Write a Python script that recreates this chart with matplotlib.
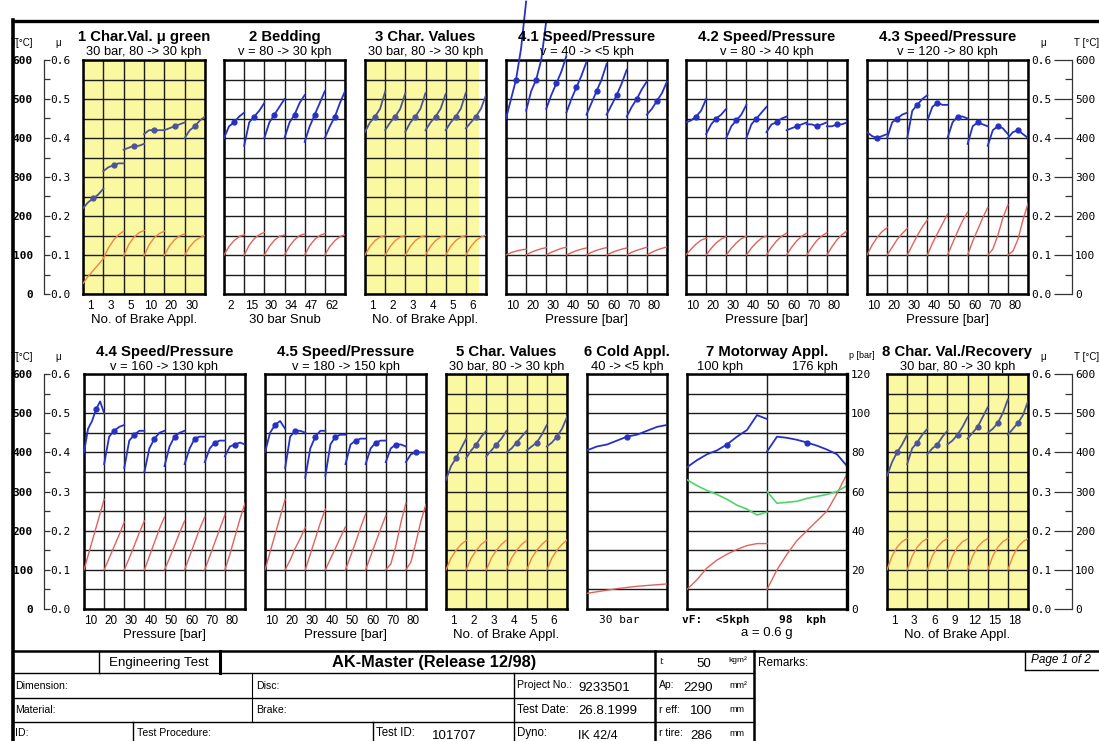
import matplotlib.pyplot as plt
import numpy as np

plt.rcParams['font.family'] = ['Liberation Sans', 'DejaVu Sans']

W, H = 1099, 741

# ---- friction coefficient mu and disc temperature [degC], one list per brake application ----
char1_mu = [[0.22, 0.235, 0.245, 0.255, 0.27],
            [0.315, 0.325, 0.33, 0.335, 0.335],
            [0.37, 0.375, 0.38, 0.38, 0.385],
            [0.41, 0.42, 0.42, 0.42, 0.42],
            [0.42, 0.425, 0.43, 0.435, 0.44],
            [0.40, 0.42, 0.43, 0.445, 0.455]]
char1_temp = [[27, 45, 60, 75, 91],
              [91, 118, 138, 152, 161],
              [97, 127, 145, 157, 163],
              [98, 126, 144, 155, 161],
              [99, 123, 139, 149, 154],
              [100, 121, 136, 145, 150]]
char1_ticks = ['1', '3', '5', '10', '20', '30']

bed_mu = [[0.40, 0.43, 0.44, 0.455, 0.465],
          [0.38, 0.44, 0.455, 0.47, 0.49],
          [0.40, 0.44, 0.46, 0.48, 0.50],
          [0.40, 0.44, 0.46, 0.49, 0.51],
          [0.39, 0.43, 0.46, 0.49, 0.52],
          [0.40, 0.43, 0.455, 0.49, 0.52]]
bed_temp = [[100, 122, 137, 147, 152],
            [100, 125, 142, 152, 158],
            [100, 122, 138, 148, 151],
            [100, 123, 139, 150, 154],
            [100, 124, 140, 150, 155],
            [100, 122, 137, 147, 152]]
bed_ticks = ['2', '15', '30', '34', '47', '62']

char3_mu = [[0.416, 0.44, 0.455, 0.475, 0.519],
            [0.42, 0.44, 0.455, 0.475, 0.515],
            [0.416, 0.44, 0.455, 0.475, 0.515],
            [0.42, 0.44, 0.455, 0.475, 0.513],
            [0.42, 0.44, 0.455, 0.475, 0.516],
            [0.425, 0.44, 0.455, 0.475, 0.51]]
char3_temp = [[100, 122, 137, 146, 150],
              [100, 122, 137, 146, 150],
              [100, 122, 137, 146, 150],
              [100, 122, 137, 146, 150],
              [100, 122, 137, 146, 150],
              [100, 122, 137, 146, 151]]
appl6_ticks = ['1', '2', '3', '4', '5', '6']

pressure_ticks = ['10', '20', '30', '40', '50', '60', '70', '80']

sp40_mu = [[0.45, 0.50, 0.55, 0.63, 0.75],
           [0.47, 0.52, 0.55, 0.60, 0.70],
           [0.475, 0.51, 0.54, 0.57, 0.61],
           [0.465, 0.50, 0.53, 0.56, 0.595],
           [0.46, 0.49, 0.52, 0.55, 0.59],
           [0.46, 0.485, 0.51, 0.54, 0.575],
           [0.455, 0.48, 0.50, 0.525, 0.545],
           [0.46, 0.475, 0.495, 0.515, 0.545]]
sp40_temp = [[100, 106, 110, 113, 115],
             [100, 107, 112, 116, 119],
             [100, 107, 112, 117, 120],
             [100, 106, 111, 115, 118],
             [100, 107, 112, 116, 119],
             [100, 106, 111, 115, 118],
             [100, 107, 112, 116, 120],
             [100, 107, 113, 117, 121]]

sp80_mu = [[0.44, 0.445, 0.455, 0.47, 0.50],
           [0.41, 0.435, 0.45, 0.46, 0.475],
           [0.40, 0.43, 0.445, 0.46, 0.485],
           [0.40, 0.435, 0.45, 0.465, 0.48],
           [0.415, 0.435, 0.44, 0.45, 0.455],
           [0.42, 0.425, 0.43, 0.435, 0.44],
           [0.435, 0.435, 0.43, 0.435, 0.44],
           [0.43, 0.43, 0.435, 0.435, 0.44]]
sp80_temp = [[100, 115, 128, 138, 143],
             [100, 117, 131, 141, 147],
             [100, 117, 131, 142, 148],
             [100, 118, 132, 143, 149],
             [100, 120, 136, 148, 156],
             [100, 120, 136, 148, 156],
             [100, 120, 137, 149, 157],
             [100, 121, 139, 152, 162]]

sp120_mu = [[0.415, 0.405, 0.40, 0.405, 0.41],
            [0.40, 0.44, 0.45, 0.46, 0.465],
            [0.40, 0.47, 0.485, 0.50, 0.51],
            [0.445, 0.48, 0.49, 0.485, 0.485],
            [0.40, 0.44, 0.455, 0.455, 0.45],
            [0.385, 0.43, 0.44, 0.435, 0.43],
            [0.38, 0.42, 0.43, 0.425, 0.41],
            [0.40, 0.415, 0.42, 0.41, 0.40]]
sp120_temp = [[100, 125, 145, 160, 170],
              [100, 120, 140, 155, 168],
              [100, 125, 150, 172, 190],
              [100, 130, 155, 180, 205],
              [100, 130, 160, 188, 210],
              [100, 135, 165, 195, 222],
              [100, 115, 150, 195, 228],
              [100, 110, 140, 190, 232]]

sp160_mu = [[0.40, 0.46, 0.48, 0.51, 0.53, 0.50],
            [0.37, 0.44, 0.455, 0.465, 0.47],
            [0.36, 0.43, 0.445, 0.455, 0.455],
            [0.35, 0.41, 0.435, 0.45, 0.455],
            [0.365, 0.415, 0.44, 0.45, 0.455],
            [0.37, 0.41, 0.435, 0.44, 0.44],
            [0.375, 0.41, 0.425, 0.43, 0.43],
            [0.39, 0.415, 0.42, 0.425, 0.42]]
sp160_temp = [[100, 145, 190, 235, 280],
              [100, 130, 160, 190, 222],
              [100, 130, 162, 195, 225],
              [100, 135, 170, 205, 235],
              [100, 130, 162, 195, 225],
              [100, 135, 170, 205, 235],
              [100, 135, 170, 205, 240],
              [100, 140, 185, 230, 270]]

sp180_mu = [[0.40, 0.45, 0.47, 0.48, 0.46],
            [0.36, 0.44, 0.455, 0.455, 0.45],
            [0.335, 0.41, 0.44, 0.455, 0.455],
            [0.34, 0.42, 0.44, 0.445, 0.445],
            [0.37, 0.42, 0.43, 0.435, 0.435],
            [0.37, 0.41, 0.425, 0.43, 0.43],
            [0.375, 0.41, 0.42, 0.42, 0.415],
            [0.375, 0.395, 0.40, 0.40, 0.40]]
sp180_temp = [[100, 145, 190, 235, 280],
              [100, 125, 155, 180, 208],
              [100, 140, 180, 220, 255],
              [100, 128, 155, 183, 210],
              [100, 135, 170, 208, 243],
              [100, 135, 170, 205, 238],
              [100, 115, 160, 220, 270],
              [100, 120, 170, 225, 268]]

char5_mu = [[0.33, 0.365, 0.385, 0.41, 0.435],
            [0.385, 0.405, 0.42, 0.44, 0.455],
            [0.39, 0.405, 0.42, 0.435, 0.455],
            [0.40, 0.41, 0.425, 0.44, 0.455],
            [0.405, 0.415, 0.425, 0.445, 0.47],
            [0.415, 0.425, 0.44, 0.46, 0.49]]
char5_temp = [[100, 130, 150, 165, 175],
              [100, 130, 150, 165, 175],
              [100, 130, 150, 165, 176],
              [100, 130, 150, 165, 175],
              [100, 130, 150, 165, 176],
              [100, 130, 150, 165, 176]]

cold_mu = [[0.405, 0.415, 0.42, 0.43, 0.44, 0.445, 0.455, 0.465, 0.47]]
cold_temp = [[40, 44, 48, 52, 55, 58, 60, 62, 64]]

# motorway stop: 100 kph and 176 kph
mw_mu = [[0.362, 0.38, 0.395, 0.405, 0.42, 0.44, 0.457, 0.495, 0.485],
         [0.402, 0.44, 0.437, 0.432, 0.425, 0.417, 0.407, 0.395, 0.365]]
mw_pressure = [[66, 63, 60.5, 58.5, 56, 53, 51, 48, 49.5],
               [60, 54, 54.5, 55, 56.5, 57.5, 58.5, 60, 63]]
mw_temp = [[50, 75, 105, 125, 140, 152, 162, 167, 167],
           [50, 100, 140, 175, 200, 225, 250, 295, 345]]

char8_mu = [[0.34, 0.375, 0.40, 0.42, 0.445],
            [0.37, 0.41, 0.425, 0.445, 0.46],
            [0.395, 0.41, 0.42, 0.44, 0.455],
            [0.42, 0.43, 0.445, 0.465, 0.49],
            [0.435, 0.45, 0.465, 0.49, 0.515],
            [0.45, 0.46, 0.475, 0.50, 0.535],
            [0.445, 0.46, 0.475, 0.495, 0.53]]
char8_temp = [[100, 135, 158, 172, 180],
              [100, 135, 158, 172, 180],
              [100, 135, 158, 172, 180],
              [100, 135, 158, 172, 179],
              [100, 135, 158, 172, 180],
              [100, 135, 158, 172, 180],
              [100, 135, 158, 172, 180]]
char8_ticks = ['1', '3', '6', '9', '12', '15', '18']

mu_ticks = [0.0, 0.1, 0.2, 0.3, 0.4, 0.5, 0.6]
temp_ticks = [0, 100, 200, 300, 400, 500, 600]
p_ticks = [0, 20, 40, 60, 80, 100, 120]

YELLOW = '#fbf8a2'
BLUE = '#2631c4'
BLUE_Y = '#4d5597'
RED = '#e2615c'
ORANGE = '#f2853f'
GREEN = '#4fd46c'
GRID = '#1c1c1c'
MONO = 'DejaVu Sans Mono'

fig = plt.figure(figsize=(W / 100, H / 100), dpi=100)


def rect(x0, y0, x1, y1):
    return [x0 / W, 1 - y1 / H, (x1 - x0) / W, (y1 - y0) / H]


def label(x, y, s, **kw):
    kw.setdefault('va', 'center')
    fig.text(x / W, 1 - y / H, s, **kw)


def sheet(x0, x1, y0, y1, ncols, shade=0.0, vgrid=True):
    ax = fig.add_axes(rect(x0, y0, x1, y1))
    ax.set_xlim(0, ncols)
    ax.set_ylim(0, 0.6)
    if shade:
        ax.axvspan(0, shade, color=YELLOW, lw=0, zorder=0)
    ax.set_yticks(np.arange(0, 0.601, 0.05))
    ax.set_xticks(np.arange(ncols + 1), minor=True)
    ax.grid(True, axis='y', which='major', color=GRID, lw=1.0)
    if vgrid:
        ax.grid(True, axis='x', which='minor', color=GRID, lw=1.0)
    ax.tick_params(which='both', length=0, labelleft=False)
    ax.set_xticks([])
    for sp in ax.spines.values():
        sp.set_linewidth(1.8)
    return ax


def traces(ax, mu_segs, temp_segs, mu_color, temp_color, clip=True):
    tax = ax.twinx()
    tax.set_ylim(0, 600)
    tax.axis('off')
    for i, seg in enumerate(mu_segs):
        xs = i + np.linspace(0, 1, len(seg))
        ax.plot(xs, seg, color=mu_color, lw=1.3, clip_on=clip, zorder=3)
        m = len(seg) // 2
        ax.plot(xs[m], seg[m], 'o', color=mu_color, ms=3.5, zorder=4)
    for i, seg in enumerate(temp_segs):
        xs = i + np.linspace(0, 1, len(seg))
        tax.plot(xs, seg, color=temp_color, lw=1.0)
    return tax


def ticks_below(ax, labels, xlabel=None):
    ax.set_xticks(np.arange(len(labels)) + 0.35)
    ax.set_xticklabels(labels, fontsize=8.5)
    ax.tick_params(axis='x', which='major', length=0, pad=4)
    if xlabel:
        ax.set_xlabel(xlabel, fontsize=9.5, labelpad=2)


def heading(x0, x1, y, title, sub):
    cx = (x0 + x1) / 2
    label(cx, y, title, ha='center', fontsize=10.7, fontweight='bold')
    if sub:
        label(cx, y + 15, sub, ha='center', fontsize=9.3)


def left_scale(y0, y1, head_y):
    ax = fig.add_axes(rect(44, y0, 44.2, y1))
    ax.set_ylim(0, 0.6)
    ax.patch.set_visible(False)
    for s in ('top', 'bottom', 'right'):
        ax.spines[s].set_visible(False)
    ax.spines['left'].set_linewidth(0.9)
    ax.spines['left'].set_color('#333333')
    ax.set_xticks([])
    ax.yaxis.set_ticks_position('right')
    ax.set_yticks(mu_ticks)
    ax.set_yticklabels([f'{v:.1f}' for v in mu_ticks], family=MONO, fontsize=8)
    ax.set_yticks(np.arange(0.05, 0.6, 0.1), minor=True)
    ax.tick_params(which='both', direction='out', length=4, width=0.9,
                   color='#333333', pad=0)
    tx = fig.add_axes(rect(44, y0, 44.2, y1))
    tx.set_ylim(0, 600)
    tx.patch.set_visible(False)
    for s in tx.spines.values():
        s.set_visible(False)
    tx.set_xticks([])
    tx.set_yticks(temp_ticks)
    tx.set_yticklabels([str(v) for v in temp_ticks], family=MONO,
                       fontsize=8, fontweight='bold')
    tx.tick_params(length=0, pad=8)
    label(22, head_y, 'T[°C]', ha='center', fontsize=7)
    label(58, head_y, 'μ', ha='center', fontsize=7)


def right_scale(y0, y1, head_y):
    ax = fig.add_axes(rect(1072, y0, 1072.2, y1))
    ax.set_ylim(0, 0.6)
    ax.patch.set_visible(False)
    for s in ('top', 'bottom', 'right'):
        ax.spines[s].set_visible(False)
    ax.spines['left'].set_linewidth(0.9)
    ax.spines['left'].set_color('#333333')
    ax.set_xticks([])
    ax.set_yticks(mu_ticks)
    ax.set_yticklabels([f'{v:.1f}' for v in mu_ticks], family=MONO, fontsize=8)
    ax.set_yticks(np.arange(0.05, 0.6, 0.1), minor=True)
    ax.tick_params(which='major', direction='out', length=13, width=0.9,
                   color='#333333', pad=2)
    ax.tick_params(which='minor', direction='out', length=5, width=0.9,
                   color='#333333')
    tx = fig.add_axes(rect(1072, y0, 1072.2, y1))
    tx.set_ylim(0, 600)
    tx.patch.set_visible(False)
    for s in tx.spines.values():
        s.set_visible(False)
    tx.set_xticks([])
    tx.yaxis.set_ticks_position('right')
    tx.set_yticks(temp_ticks)
    tx.set_yticklabels([str(v) for v in temp_ticks], family=MONO, fontsize=8)
    tx.tick_params(length=0, pad=2)
    label(1043, head_y, 'μ', ha='center', fontsize=7)
    label(1087, head_y, 'T [°C]', ha='center', fontsize=7)


TOP = (60, 294)
BOT = (374, 609)

# ---- top row ----
ax = sheet(83, 205, *TOP, 6, shade=6)
traces(ax, char1_mu, char1_temp, BLUE_Y, ORANGE)
ticks_below(ax, char1_ticks, 'No. of Brake Appl.')
heading(83, 205, 37, '1 Char.Val. μ green', '30 bar, 80 -> 30 kph')

ax = sheet(224, 345, *TOP, 6)
traces(ax, bed_mu, bed_temp, BLUE, RED)
ticks_below(ax, bed_ticks, '30 bar Snub')
heading(224, 345, 37, '2 Bedding', 'v = 80 -> 30 kph')

ax = sheet(365, 486, *TOP, 6, shade=5.65)
traces(ax, char3_mu, char3_temp, BLUE_Y, ORANGE)
ticks_below(ax, appl6_ticks, 'No. of Brake Appl.')
heading(365, 486, 37, '3 Char. Values', '30 bar, 80 -> 30 kph')

ax = sheet(506, 667, *TOP, 8)
traces(ax, sp40_mu, sp40_temp, BLUE, RED, clip=False)
ticks_below(ax, pressure_ticks, 'Pressure [bar]')
heading(506, 667, 37, '4.1 Speed/Pressure', 'v = 40 -> <5 kph')

ax = sheet(686, 847, *TOP, 8)
traces(ax, sp80_mu, sp80_temp, BLUE, RED)
ticks_below(ax, pressure_ticks, 'Pressure [bar]')
heading(686, 847, 37, '4.2 Speed/Pressure', 'v = 80 -> 40 kph')

ax = sheet(867, 1028, *TOP, 8)
traces(ax, sp120_mu, sp120_temp, BLUE, RED)
ticks_below(ax, pressure_ticks, 'Pressure [bar]')
heading(867, 1028, 37, '4.3 Speed/Pressure', 'v = 120 -> 80 kph')

# ---- bottom row ----
ax = sheet(84, 245, *BOT, 8)
traces(ax, sp160_mu, sp160_temp, BLUE, RED)
ticks_below(ax, pressure_ticks, 'Pressure [bar]')
heading(84, 245, 352, '4.4 Speed/Pressure', 'v = 160 -> 130 kph')

ax = sheet(265, 426, *BOT, 8)
traces(ax, sp180_mu, sp180_temp, BLUE, RED)
ticks_below(ax, pressure_ticks, 'Pressure [bar]')
heading(265, 426, 352, '4.5 Speed/Pressure', 'v = 180 -> 150 kph')

ax = sheet(446, 567, *BOT, 6, shade=6)
traces(ax, char5_mu, char5_temp, BLUE_Y, ORANGE)
ticks_below(ax, appl6_ticks, 'No. of Brake Appl.')
heading(446, 567, 352, '5 Char. Values', '30 bar, 80 -> 30 kph')

ax = sheet(587, 667, *BOT, 1, vgrid=False)
traces(ax, cold_mu, cold_temp, BLUE, RED)
ax.set_xticks([0.4])
ax.set_xticklabels(['30 bar'], family=MONO, fontsize=8)
ax.tick_params(axis='x', length=0, pad=4)
heading(587, 667, 352, '6 Cold Appl.', '40 -> <5 kph')

ax = sheet(687, 847, *BOT, 2)
traces(ax, mw_mu, mw_temp, BLUE, RED)
pax = ax.twinx()
pax.set_ylim(0, 120)
for i, seg in enumerate(mw_pressure):
    pax.plot(i + np.linspace(0, 1, len(seg)), seg, color=GREEN, lw=1.2)
pax.set_yticks(p_ticks)
pax.set_yticklabels([str(v) for v in p_ticks], family=MONO, fontsize=8)
pax.tick_params(length=0, pad=3)
for s in ('top', 'bottom', 'left'):
    pax.spines[s].set_visible(False)
pax.spines['right'].set_linewidth(2.4)
ax.set_xticks([0.36, 1.44])
ax.set_xticklabels(['vF:  <5kph', '98  kph'], family=MONO, fontsize=8,
                   fontweight='bold')
ax.tick_params(axis='x', length=0, pad=4)
ax.set_xlabel('a = 0.6 g', fontsize=9.5, labelpad=2)
label(767, 352, '7 Motorway Appl.', ha='center', fontsize=10.7, fontweight='bold')
label(697, 367, '100 kph', ha='left', fontsize=9.3)
label(838, 367, '176 kph', ha='right', fontsize=9.3)
label(862, 355, 'p [bar]', ha='center', fontsize=6.5)

ax = sheet(887, 1028, *BOT, 7, shade=7)
traces(ax, char8_mu, char8_temp, BLUE_Y, ORANGE)
ticks_below(ax, char8_ticks, 'No. of Brake Appl.')
heading(887, 1028, 352, '8 Char. Val./Recovery', '30 bar, 80 -> 30 kph')

left_scale(*TOP, 43)
left_scale(*BOT, 357)
right_scale(*TOP, 43)
right_scale(*BOT, 357)

# ---- page frame and title block ----
tab = fig.add_axes([0, 0, 1, 1])
tab.set_xlim(0, W)
tab.set_ylim(H, 0)
tab.axis('off')

tab.plot([13, W], [21, 21], color='black', lw=2.4)
tab.plot([13, 13], [20, H], color='black', lw=2.6)
tab.plot([13, W], [651, 651], color='black', lw=1.8)
for y in (673, 698, 722):
    tab.plot([13, 754], [y, y], color='black', lw=1.0)
for x, ya, yb, lw in [(99, 651, 673, 1.0), (220, 651, 673, 2.2),
                      (252, 673, 722, 0.8), (133, 722, H, 1.0),
                      (373, 722, H, 1.0), (514, 673, H, 1.0),
                      (655, 651, H, 1.8), (754, 651, H, 1.8),
                      (1025, 651, 670, 1.0)]:
    tab.plot([x, x], [ya, yb], color='black', lw=lw)
tab.plot([1025, W], [670, 670], color='black', lw=1.0)

label(159, 663, 'Engineering Test', ha='center', fontsize=9.6)
label(434, 662, 'AK-Master (Release 12/98)', ha='center', fontsize=11.8,
      fontweight='bold')
label(659, 661, 'I:', fontsize=6.5)
label(711, 664, '50', ha='right', fontsize=9.5)
label(728, 660, 'kgm²', fontsize=6)
label(758, 663, 'Remarks:', fontsize=8.5)
label(1061, 660, 'Page 1 of 2', ha='center', fontsize=8.5, style='italic')

label(15, 686, 'Dimension:', fontsize=7.6)
label(256, 686, 'Disc:', fontsize=7.6)
label(517, 685, 'Project No.:', fontsize=7.6)
label(578, 688, '9233501', fontsize=9.5)
label(659, 685, 'Ap:', fontsize=7.5)
label(683, 688, '2290', fontsize=9.5)
label(729, 685, 'mm²', fontsize=6.5)

label(15, 710, 'Material:', fontsize=7.6)
label(256, 710, 'Brake:', fontsize=7.6)
label(517, 710, 'Test Date:', fontsize=8.3)
label(578, 711, '26.8.1999', fontsize=9.5)
label(659, 710, 'r eff:', fontsize=7.5)
label(690, 711, '100', fontsize=9.5)
label(729, 710, 'mm', fontsize=6.5)

label(15, 733, 'ID:', fontsize=7.6)
label(137, 733, 'Test Procedure:', fontsize=7.6)
label(376, 733, 'Test ID:', fontsize=8.3)
label(432, 736, '101707', fontsize=9.5)
label(517, 733, 'Dyno:', fontsize=8.3)
label(578, 736, 'IK 42/4', fontsize=9)
label(659, 733, 'r tire:', fontsize=7.5)
label(690, 736, '286', fontsize=9.5)
label(729, 733, 'mm', fontsize=6.5)

fig.savefig('out.png', dpi=100)
